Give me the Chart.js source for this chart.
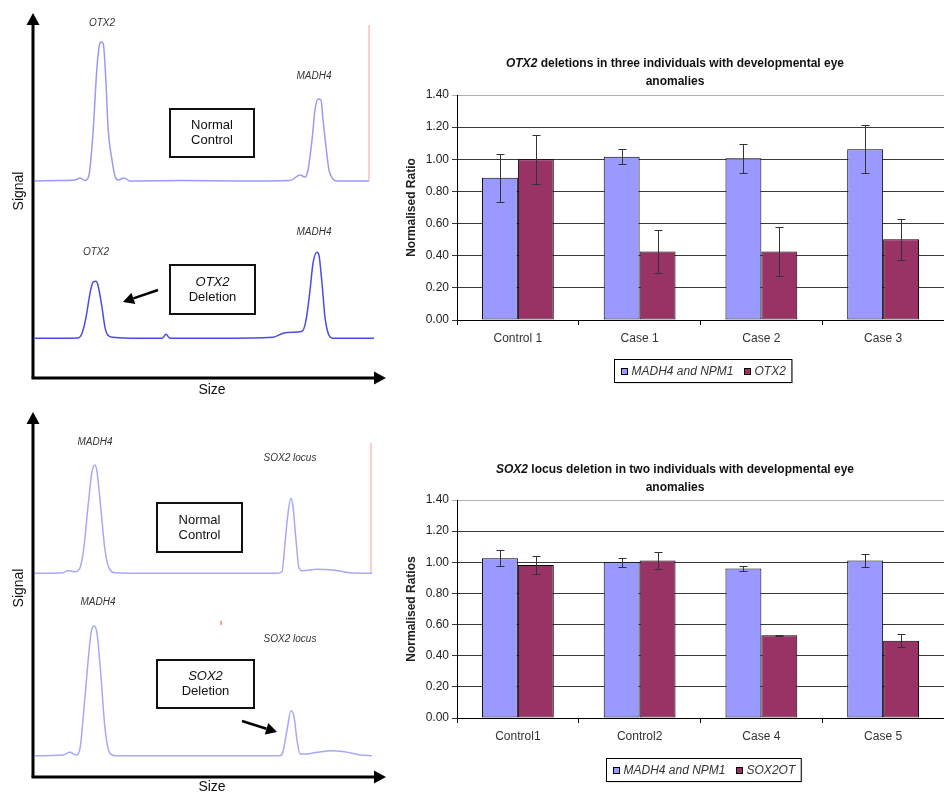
<!DOCTYPE html>
<html><head><meta charset="utf-8">
<script src="https://cdn.jsdelivr.net/npm/chart.js@4.4.1/dist/chart.umd.min.js"></script>
<style>
html,body{margin:0;padding:0;background:#fff;}
#wrap{position:relative;width:944px;height:793px;overflow:hidden;background:#fff;}
canvas{position:absolute;}
</style></head><body>
<div id="wrap">
<canvas id="trOTX" width="400" height="400" style="left:0;top:0;width:400px;height:400px"></canvas>
<canvas id="trSOX" width="400" height="393" style="left:0;top:400px;width:400px;height:393px"></canvas>
<canvas id="barOTX" width="544" height="355" style="left:400px;top:40px;width:544px;height:355px"></canvas>
<canvas id="barSOX" width="544" height="345" style="left:400px;top:448px;width:544px;height:345px"></canvas>
</div>
<script>
const FONT = '"Liberation Sans", Arial, Helvetica, sans-serif';
Chart.defaults.font.family = FONT;
Chart.defaults.color = '#333';
Chart.defaults.animation = false;

// ---------- Bar chart data ----------
const otxCategories = ['Control 1', 'Case 1', 'Case 2', 'Case 3'];
const otxRefValues  = [0.885, 1.016, 1.006, 1.062];
const otxRefErrors  = [0.150, 0.045, 0.092, 0.150];
const otxGeneValues = [1.000, 0.427, 0.427, 0.502];
const otxGeneErrors = [0.153, 0.135, 0.153, 0.127];

const soxCategories = ['Control1', 'Control2', 'Case 4', 'Case 5'];
const soxRefValues  = [1.026, 1.000, 0.960, 1.011];
const soxRefErrors  = [0.050, 0.030, 0.015, 0.043];
const soxGeneValues = [0.983, 1.011, 0.532, 0.496];
const soxGeneErrors = [0.060, 0.057, 0.004, 0.043];

const yTickValues = [0, 0.2, 0.4, 0.6, 0.8, 1.0, 1.2, 1.4];
const yTickLabels = ['0.00', '0.20', '0.40', '0.60', '0.80', '1.00', '1.20', '1.40'];

// ---------- Electropherogram traces: [size, signal] ----------
const otxControlTrace = [[35,0],[60,0.5],[75,1],[80,3],[85,0.5],[89,6],[93,48],[97,114],[100,138],[102,139],[103.5,136],[106,98],[108,54],[112,21],[115,5],[118,1],[124,3],[130,0],[180,0.5],[240,0],[290,0.5],[300,6],[305,4],[308,11],[312,41],[315,71],[318,82],[321,81],[323,61],[326,34],[329,11],[333,2],[337,0],[369,0]];
const otxDeletionTrace = [[35,0],[78,0.3],[82,5],[86,21],[90,45],[93,56],[96,57],[98,53],[102,31],[105,11],[108,3],[113,1],[140,0],[162,0],[166,4],[170,0],[220,0],[273,1],[283,5],[293,6],[302,7],[306,18],[310,48],[313,75],[317,86],[319,83],[322,55],[325,21],[329,3],[333,0],[374,0]];
const soxControlTrace = [[35,0],[63,0.6],[68,2.6],[75,1.6],[80,5.3],[84,26.6],[88,66.6],[92,101.6],[95,108.3],[97,101.6],[101,63.3],[105,23.3],[110,3.3],[115,0.6],[150,0],[277,0],[282,1.6],[285,30],[288,60],[291,75],[293,66.6],[296,33.3],[299,5],[302,2.6],[317,4],[333,3.3],[350,0.6],[372,0]];
const soxDeletionTrace = [[35,0],[63,0.7],[70,3.4],[76,0.7],[80,7.4],[83,35.7],[87,82.4],[91,122.4],[94,129.7],[97,122.4],[101,79],[105,27.4],[110,2.4],[115,0],[280,0],[283,4],[287,25.7],[291,45],[294,39],[297,15.7],[300,1.7],[307,1.7],[317,3.4],[333,5],[350,3],[360,0.7],[372,0]];
const otxRedMarker = [[369,0],[369,156]];
const soxRedMarker = [[371,0],[371,130.3]];
const soxRedDot = [[221,130.7],[221,134.7]];

const toXY = a => a.map(p => ({x: p[0], y: p[1]}));

// ---------- Bar chart plugins ----------
const errorBars = {
  id: 'errorBars',
  afterDatasetsDraw(chart) {
    const ctx = chart.ctx, ys = chart.scales.y;
    chart.data.datasets.forEach((ds, i) => {
      if (!ds.errors) return;
      const meta = chart.getDatasetMeta(i);
      ctx.save();
      ctx.strokeStyle = '#333'; ctx.lineWidth = 1;
      meta.data.forEach((bar, j) => {
        const v = ds.data[j], e = ds.errors[j];
        const x = Math.round(bar.x) + 0.5;
        const yt = Math.round(ys.getPixelForValue(v + e)) + 0.5;
        const yb = Math.round(ys.getPixelForValue(v - e)) + 0.5;
        ctx.beginPath();
        ctx.moveTo(x, yt); ctx.lineTo(x, yb);
        ctx.moveTo(x - 4, yt); ctx.lineTo(x + 4, yt);
        ctx.moveTo(x - 4, yb); ctx.lineTo(x + 4, yb);
        ctx.stroke();
      });
      ctx.restore();
    });
  }
};

function makeTitle(lines, cx, ys) {
  return {
    id: 'mixedTitle',
    afterDraw(chart) {
      const ctx = chart.ctx;
      ctx.save();
      ctx.fillStyle = '#111';
      ctx.textBaseline = 'middle';
      lines.forEach((parts, li) => {
        let total = 0;
        parts.forEach(p => { ctx.font = p.f; p.w = ctx.measureText(p.t).width; total += p.w; });
        let x = cx - total / 2;
        parts.forEach(p => { ctx.font = p.f; ctx.fillText(p.t, x, ys[li]); x += p.w; });
      });
      ctx.restore();
    }
  };
}

function makeLegend(topY, dx) {
  return {
    id: 'boxLegend',
    afterDraw(chart) {
      const ctx = chart.ctx, ds = chart.data.datasets;
      ctx.save();
      ctx.font = 'italic 12px ' + FONT;
      const sq = 7, gapSq = 4, gapItem = 10, pad = 6, h = 23;
      let w = pad * 2;
      ds.forEach((d, i) => { w += sq + gapSq + ctx.measureText(d.label).width; if (i < ds.length - 1) w += gapItem; });
      const cx = (chart.chartArea.left + chart.chartArea.right) / 2 + dx;
      const x0 = Math.round(cx - w / 2) + 0.5, y0 = topY + 0.5;
      ctx.fillStyle = '#c8c8c8';
      ctx.fillRect(x0 + 1, y0 + 1, w, h);
      ctx.fillStyle = '#fff';
      ctx.fillRect(x0, y0, w, h);
      ctx.strokeStyle = '#000'; ctx.lineWidth = 1;
      ctx.strokeRect(x0, y0, w, h);
      const cy = y0 + h / 2;
      let x = x0 + pad;
      ds.forEach((d) => {
        ctx.fillStyle = d.backgroundColor;
        ctx.fillRect(Math.round(x), Math.round(cy - 3.5), sq, sq);
        ctx.strokeStyle = '#000';
        ctx.strokeRect(Math.round(x) + 0.5, Math.round(cy - 3.5) + 0.5, sq - 1, sq - 1);
        x += sq + gapSq;
        ctx.fillStyle = '#333';
        ctx.textBaseline = 'middle';
        ctx.fillText(d.label, x, cy + 0.5);
        x += ctx.measureText(d.label).width + gapItem;
      });
      ctx.restore();
    }
  };
}

function barChart(id, cats, series, yTitle, padTop, titlePlugin, legendPlugin) {
  return new Chart(document.getElementById(id), {
    type: 'bar',
    data: {
      labels: cats,
      datasets: series.map(s => ({
        label: s.label, data: s.values, errors: s.errors,
        backgroundColor: s.color, borderColor: '#000', borderWidth: 1, borderSkipped: false,
        categoryPercentage: 0.59, barPercentage: 1.0
      }))
    },
    options: {
      responsive: false, animation: false,
      layout: { padding: { top: padTop, bottom: 45, left: 0, right: 0 } },
      plugins: { legend: { display: false }, title: { display: false }, tooltip: { enabled: false } },
      scales: {
        x: {
          grid: { drawOnChartArea: false, drawTicks: true, tickLength: 5, color: '#000', offset: true },
          border: { color: '#000', width: 1 },
          ticks: { font: { size: 12 }, color: '#333', padding: 6, maxRotation: 0 },
          afterFit: s => { s.height = 30; }
        },
        y: {
          min: 0, max: 1.4,
          afterBuildTicks: s => { s.ticks = yTickValues.map(v => ({ value: v })); },
          ticks: { callback: (v, i) => yTickLabels[i], font: { size: 12 }, color: '#222', padding: 3 },
          grid: { color: c => (c.tick && c.tick.value === 1.4) ? '#b0b0b0' : '#3a3a3a', tickLength: 5, lineWidth: 1 },
          border: { color: '#000', width: 1 },
          title: { display: true, text: yTitle, font: { size: 12, weight: 'bold' }, color: '#222', padding: { top: 4, bottom: 0 } },
          afterFit: s => { s.width = 57; }
        }
      }
    },
    plugins: [errorBars, titlePlugin, legendPlugin]
  });
}

const BLUE = '#9999FF', PLUM = '#993366';
const BOLD = 'bold 12px ' + FONT, BOLDIT = 'italic bold 12px ' + FONT;

barChart('barOTX', otxCategories, [
  { label: 'MADH4 and NPM1', values: otxRefValues, errors: otxRefErrors, color: BLUE },
  { label: 'OTX2', values: otxGeneValues, errors: otxGeneErrors, color: PLUM }
], 'Normalised Ratio', 55,
  makeTitle([[{t:'OTX2', f:BOLDIT}, {t:' deletions in three individuals with developmental eye', f:BOLD}], [{t:'anomalies', f:BOLD}]], 275, [24, 42]),
  makeLegend(319, 2));

barChart('barSOX', soxCategories, [
  { label: 'MADH4 and NPM1', values: soxRefValues, errors: soxRefErrors, color: BLUE },
  { label: 'SOX2OT', values: soxGeneValues, errors: soxGeneErrors, color: PLUM }
], 'Normalised Ratios', 52,
  makeTitle([[{t:'SOX2', f:BOLDIT}, {t:' locus deletion in two individuals with developmental eye', f:BOLD}], [{t:'anomalies', f:BOLD}]], 275, [22, 40]),
  makeLegend(310, 2.5));

// ---------- Trace panels ----------
function drawArrow(ctx, x1, y1, x2, y2, lw, hl, hw) {
  const a = Math.atan2(y2 - y1, x2 - x1);
  const bx = x2 - hl * Math.cos(a), by = y2 - hl * Math.sin(a);
  ctx.lineWidth = lw;
  ctx.beginPath(); ctx.moveTo(x1, y1); ctx.lineTo(bx, by); ctx.stroke();
  ctx.beginPath();
  ctx.moveTo(x2, y2);
  ctx.lineTo(bx + hw * Math.sin(a), by - hw * Math.cos(a));
  ctx.lineTo(bx - hw * Math.sin(a), by + hw * Math.cos(a));
  ctx.closePath(); ctx.fill();
}

function makeAnnot(a) {
  return {
    id: 'panelAnnot',
    afterDraw(chart) {
      const ctx = chart.ctx;
      ctx.save();
      ctx.strokeStyle = '#000'; ctx.fillStyle = '#000';
      drawArrow(ctx, a.axX, a.axBottom, a.axX, a.yTip, 3, 12, 6.5);
      drawArrow(ctx, a.axX - 1.5, a.axBottom, a.xTip, a.axBottom, 3, 12, 6.5);
      ctx.fillStyle = '#111';
      ctx.font = '14px ' + FONT;
      ctx.textAlign = 'center'; ctx.textBaseline = 'middle';
      ctx.fillText('Size', a.size[0], a.size[1]);
      ctx.save(); ctx.translate(a.signal[0], a.signal[1]); ctx.rotate(-Math.PI / 2);
      ctx.fillText('Signal', 0, 0); ctx.restore();
      ctx.font = 'italic 10px ' + FONT; ctx.fillStyle = '#333';
      a.labels.forEach(l => ctx.fillText(l.t, l.x, l.y));
      a.boxes.forEach(b => {
        ctx.lineWidth = 2; ctx.strokeStyle = '#111';
        ctx.strokeRect(b.x, b.y, b.w, b.h);
        ctx.fillStyle = '#111';
        b.lines.forEach((ln, i) => {
          ctx.font = (ln.it ? 'italic ' : '') + '13px ' + FONT;
          ctx.fillText(ln.t, b.x + b.w / 2, b.y + b.h / 2 + (i === 0 ? -7.5 : 7.5));
        });
      });
      ctx.fillStyle = '#000'; ctx.strokeStyle = '#000';
      drawArrow(ctx, a.arrow[0], a.arrow[1], a.arrow[2], a.arrow[3], 2.5, 11, 6);
      ctx.restore();
    }
  };
}

function tracePanel(id, upper, lower, upColor, lowColor, markers, yU, yL, ann) {
  const lineDs = (d, axis, color, w) => ({
    data: toXY(d), yAxisID: axis, borderColor: color, borderWidth: w, pointRadius: 0,
    fill: false, cubicInterpolationMode: 'monotone', tension: 0.4
  });
  const ds = [lineDs(upper, 'yU', upColor, 1.5), lineDs(lower, 'yL', lowColor, 1.5)];
  markers.forEach(m => ds.push({ data: toXY(m.d), yAxisID: m.axis, borderColor: '#ff9a9a', borderWidth: m.w, pointRadius: 0, tension: 0, fill: false }));
  return new Chart(document.getElementById(id), {
    type: 'line',
    data: { datasets: ds },
    options: {
      responsive: false, animation: false,
      layout: { padding: 0 },
      plugins: { legend: { display: false }, tooltip: { enabled: false } },
      scales: {
        x: { type: 'linear', min: 0, max: 400, display: false },
        yU: { type: 'linear', min: yU[0], max: yU[1], display: false },
        yL: { type: 'linear', min: yL[0], max: yL[1], display: false }
      }
    },
    plugins: [makeAnnot(ann)]
  });
}

tracePanel('trOTX', otxControlTrace, otxDeletionTrace, '#9a9af6', '#4b4bec',
  [{ d: otxRedMarker, axis: 'yU', w: 1 }],
  [-219, 181], [-61.7, 338.3],
  { axX: 33, axBottom: 378, yTip: 13, xTip: 386, size: [212, 390], signal: [19, 191],
    labels: [{t:'OTX2', x:102, y:23}, {t:'MADH4', x:314, y:76}, {t:'OTX2', x:96, y:252}, {t:'MADH4', x:314, y:232}],
    boxes: [{x:170, y:109, w:84, h:48, lines:[{t:'Normal'}, {t:'Control'}]},
            {x:170, y:265, w:85, h:49, lines:[{t:'OTX2', it:true}, {t:'Deletion'}]}],
    arrow: [158, 290, 123, 302] });

tracePanel('trSOX', soxControlTrace, soxDeletionTrace, '#a8a8f8', '#a8a8f8',
  [{ d: soxRedMarker, axis: 'yU', w: 1 }, { d: soxRedDot, axis: 'yL', w: 2 }],
  [-219.7, 173.3], [-37.3, 355.7],
  { axX: 33, axBottom: 377, yTip: 12, xTip: 386, size: [212, 387], signal: [19, 188],
    labels: [{t:'MADH4', x:95, y:42}, {t:'SOX2 locus', x:290, y:58}, {t:'MADH4', x:98, y:202}, {t:'SOX2 locus', x:290, y:239}],
    boxes: [{x:157, y:103, w:85, h:49, lines:[{t:'Normal'}, {t:'Control'}]},
            {x:157, y:260, w:97, h:48, lines:[{t:'SOX2', it:true}, {t:'Deletion'}]}],
    arrow: [242, 321, 277, 332] });
</script>
</body></html>
